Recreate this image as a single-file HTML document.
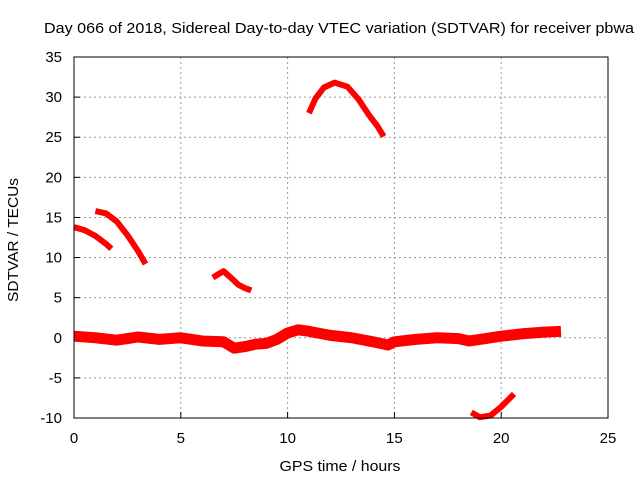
<!DOCTYPE html>
<html><head><meta charset="utf-8"><style>
body{margin:0;background:#fff}
svg{display:block;font-family:"Liberation Sans",sans-serif}
</style></head><body>
<svg id="chart" width="640" height="480">
<text x="44" y="33" font-size="15" textLength="590" lengthAdjust="spacingAndGlyphs">Day 066 of 2018, Sidereal Day-to-day VTEC variation (SDTVAR) for receiver pbwa</text>
<text x="340" y="471" font-size="15" textLength="121" lengthAdjust="spacingAndGlyphs" text-anchor="middle">GPS time / hours</text>
<text transform="translate(18,240) rotate(-90)" font-size="15" textLength="124" lengthAdjust="spacingAndGlyphs" text-anchor="middle">SDTVAR / TECUs</text>
<g id="grid"></g><g id="marks"></g>
<rect x="74" y="57" width="534" height="361" fill="none" stroke="#000"/>
</svg>
<script>
const xTicks=[0,5,10,15,20,25];
const yTicks=[-10,-5,0,5,10,15,20,25,30,35];
const bandX=[0,1,2,3,4,5,6,7,7.5,8,8.5,9,9.5,10,10.5,11,12,13,14,14.7,15,16,17,18,18.5,19,20,21,22,22.8];
const bandY=[0.2,0,-0.3,0.1,-0.2,0,-0.4,-0.5,-1.3,-1.1,-0.8,-0.7,-0.2,0.6,1.0,0.8,0.3,0,-0.5,-0.9,-0.5,-0.2,0,-0.1,-0.4,-0.2,0.2,0.5,0.7,0.8];
const arcAX=[0,0.5,1,1.5,1.75];
const arcAY=[13.8,13.4,12.7,11.7,11.1];
const arcBX=[1,1.5,2,2.5,3,3.35];
const arcBY=[15.8,15.5,14.5,12.8,10.8,9.2];
const arcCX=[6.5,6.8,7.0,7.3,7.7,8.0,8.3];
const arcCY=[7.5,8.0,8.3,7.6,6.6,6.2,5.9];
const arcDX=[11.0,11.3,11.7,12.2,12.8,13.3,13.8,14.2,14.5];
const arcDY=[28,29.8,31.2,31.8,31.3,29.8,27.8,26.4,25.1];
const arcEX=[18.6,19.0,19.5,20.0,20.6];
const arcEY=[-9.3,-9.9,-9.7,-8.6,-7.0];
const sx=v=>74+v*534/25, sy=v=>418-(v+10)*361/45;
const NS='http://www.w3.org/2000/svg';
const g=document.getElementById('grid'), m=document.getElementById('marks');
function mk(p,t,a){const e=document.createElementNS(NS,t);for(const k in a)e.setAttribute(k,a[k]);p.appendChild(e);return e;}
xTicks.forEach(v=>{
 if(v>0&&v<25){const l=mk(g,'line',{x1:sx(v),x2:sx(v),y1:57,y2:418,stroke:'#999','stroke-dasharray':'2,3'});
 
 }
 mk(g,'line',{x1:sx(v),x2:sx(v),y1:418,y2:412,stroke:'#000'});
 const t=mk(g,'text',{x:sx(v),y:443,'font-size':15,'text-anchor':'middle'});t.textContent=v;
 
 
});
yTicks.forEach(v=>{
 if(v>-10&&v<35){const l=mk(g,'line',{x1:74,x2:608,y1:sy(v),y2:sy(v),stroke:'#999','stroke-dasharray':'2,3'});
 
 }
 mk(g,'line',{x1:74,x2:80,y1:sy(v),y2:sy(v),stroke:'#000'});
 const t=mk(g,'text',{x:62,y:sy(v)+5,'font-size':15,'text-anchor':'end'});t.textContent=v;
 
 
});
function series(xs,ys,w,name){
 const pts=xs.map((x,i)=>sx(x)+','+sy(ys[i])).join(' ');
 const p=mk(m,'polyline',{points:pts,fill:'none',stroke:'#f00','stroke-width':w,'stroke-linejoin':'round','stroke-linecap':'butt'});
 
 
}
series(bandX,bandY,11,'sdtvar-band');
series(arcAX,arcAY,6,'arc-a');
series(arcBX,arcBY,6,'arc-b');
series(arcCX,arcCY,6,'arc-c');
series(arcDX,arcDY,6,'arc-d');
series(arcEX,arcEY,6,'arc-e');
</script>
</body></html>
